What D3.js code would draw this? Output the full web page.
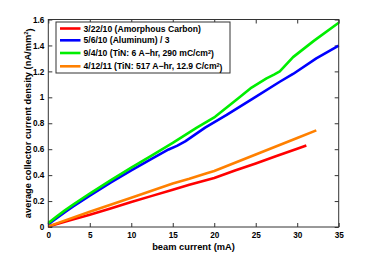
<!DOCTYPE html>
<html><head><meta charset="utf-8">
<script src="https://cdn.jsdelivr.net/npm/d3@7"></script>
<style>body{margin:0;background:#fff}svg{display:block}text{font-family:"Liberation Sans",Arial,sans-serif;font-weight:bold;fill:#000}</style>
</head><body><svg id="c" width="374" height="256"></svg>
<script>
const xTicks = [0,5,10,15,20,25,30,35];
const yTicks = [0,0.2,0.4,0.6,0.8,1,1.2,1.4,1.6];
const seriesNames = ["3/22/10 (Amorphous Carbon)","5/6/10 (Aluminum) / 3","9/4/10 (TiN: 6 A\u2212hr, 290 mC/cm","4/12/11 (TiN: 517 A\u2212hr, 12.9 C/cm"];
const seriesColors = ["#ff0000","#0000ff","#00ee00","#ff8000"];
const redX = [0,2.5,5,7.5,10,12.5,15,17,20,22.5,25,27.5,30,31.1];
const redY = [0.003,0.05,0.095,0.143,0.192,0.24,0.288,0.325,0.378,0.435,0.49,0.547,0.603,0.628];
const blueX = [0,0.5,1,2,3,5,7.5,10,12.5,14.5,15.5,16.5,18.9,21.5,23,24.7,27.9,29.5,32.3,35];
const blueY = [0.02,0.045,0.068,0.115,0.158,0.242,0.342,0.437,0.528,0.598,0.626,0.66,0.766,0.864,0.925,0.992,1.12,1.18,1.30,1.398];
const greenX = [0,0.5,1,2,3,5,7.5,10,12.5,15,17.9,20.1,22.9,24.5,26.3,27.2,27.9,29.5,32,35];
const greenY = [0.03,0.055,0.08,0.128,0.172,0.258,0.36,0.458,0.553,0.648,0.766,0.85,0.992,1.075,1.146,1.175,1.2,1.31,1.435,1.575];
const orangeX = [0,5,10,15,17,19,20,25,30,32.3];
const orangeY = [0.005,0.117,0.226,0.336,0.372,0.412,0.432,0.559,0.686,0.745];

const svg = d3.select("#c");
const L=48.3,R=338.7,T=19.5,B=227;
const x = d3.scaleLinear().domain([0,35]).range([L,R]);
const y = d3.scaleLinear().domain([0,1.6]).range([B,T]);
const fmt = d => d===0?"0":(d===1?"1":d3.format(".1f")(d));

const axCol="#333";
svg.append("g").attr("transform",`translate(0,${B})`).call(d3.axisBottom(x).tickValues(xTicks).tickSize(-4).tickPadding(5).tickFormat(d3.format("d"))).call(g=>{g.select(".domain").remove();g.selectAll("line").attr("stroke",axCol);g.selectAll("text").attr("font-size","8.2px").style("font-family","Liberation Sans, Arial").style("font-weight","bold").attr("fill","#000");});
svg.append("g").attr("transform",`translate(0,${T})`).call(d3.axisTop(x).tickValues(xTicks).tickSize(-4).tickFormat("")).call(g=>{g.select(".domain").remove();g.selectAll("line").attr("stroke",axCol);});
svg.append("g").attr("transform",`translate(${L},0)`).call(d3.axisLeft(y).tickValues(yTicks).tickSize(-4).tickPadding(4).tickFormat(fmt)).call(g=>{g.select(".domain").remove();g.selectAll("line").attr("stroke",axCol);g.selectAll("text").attr("font-size","8.2px").style("font-family","Liberation Sans, Arial").style("font-weight","bold").attr("fill","#000");});
svg.append("g").attr("transform",`translate(${R},0)`).call(d3.axisRight(y).tickValues(yTicks).tickSize(-4).tickFormat("")).call(g=>{g.select(".domain").remove();g.selectAll("line").attr("stroke",axCol);});

const series = [[redX,redY],[blueX,blueY],[greenX,greenY],[orangeX,orangeY]];
const line = d3.line().x(d=>x(d[0])).y(d=>y(d[1]));
const order=[1,2,0,3];
order.forEach(i=>{
  const [xs,ys]=series[i];
  svg.append("path").datum(xs.map((v,k)=>[v,ys[k]])).attr("d",line).attr("fill","none").attr("stroke",seriesColors[i]).attr("stroke-width",2.6).attr("stroke-linejoin","round");
});

svg.append("rect").attr("x",L).attr("y",T).attr("width",R-L).attr("height",B-T).attr("fill","none").attr("stroke",axCol).attr("stroke-width",1);

svg.append("rect").attr("x",56).attr("y",22).attr("width",174).attr("height",51).attr("fill","#fff").attr("stroke",axCol).attr("stroke-width",1);
const rows=[28.5,40.3,53,66.3];
seriesNames.forEach((n,i)=>{
  svg.append("line").attr("x1",60).attr("x2",80.5).attr("y1",rows[i]).attr("y2",rows[i]).attr("stroke",seriesColors[i]).attr("stroke-width",2.6);
  const t=svg.append("text").attr("x",83.5).attr("y",rows[i]).attr("dy","0.35em").attr("font-size","8.6px").text(n);
  if(i>=2){t.append("tspan").attr("dy","-0.45em").attr("font-size","5.5px").text("2");t.append("tspan").attr("dy","0.45em").text(")");}
});

svg.append("text").attr("x",(L+R)/2).attr("y",250).attr("text-anchor","middle").attr("font-size","9.3px").text("beam current (mA)");
const yl=svg.append("text").attr("transform",`translate(31,${(T+B)/2}) rotate(-90)`).attr("text-anchor","middle").attr("font-size","9.3px").text("average collector current density (nA/mm");
yl.append("tspan").attr("dy","-0.45em").attr("font-size","6px").text("2");
yl.append("tspan").attr("dy","0.45em").text(")");
</script></body></html>
